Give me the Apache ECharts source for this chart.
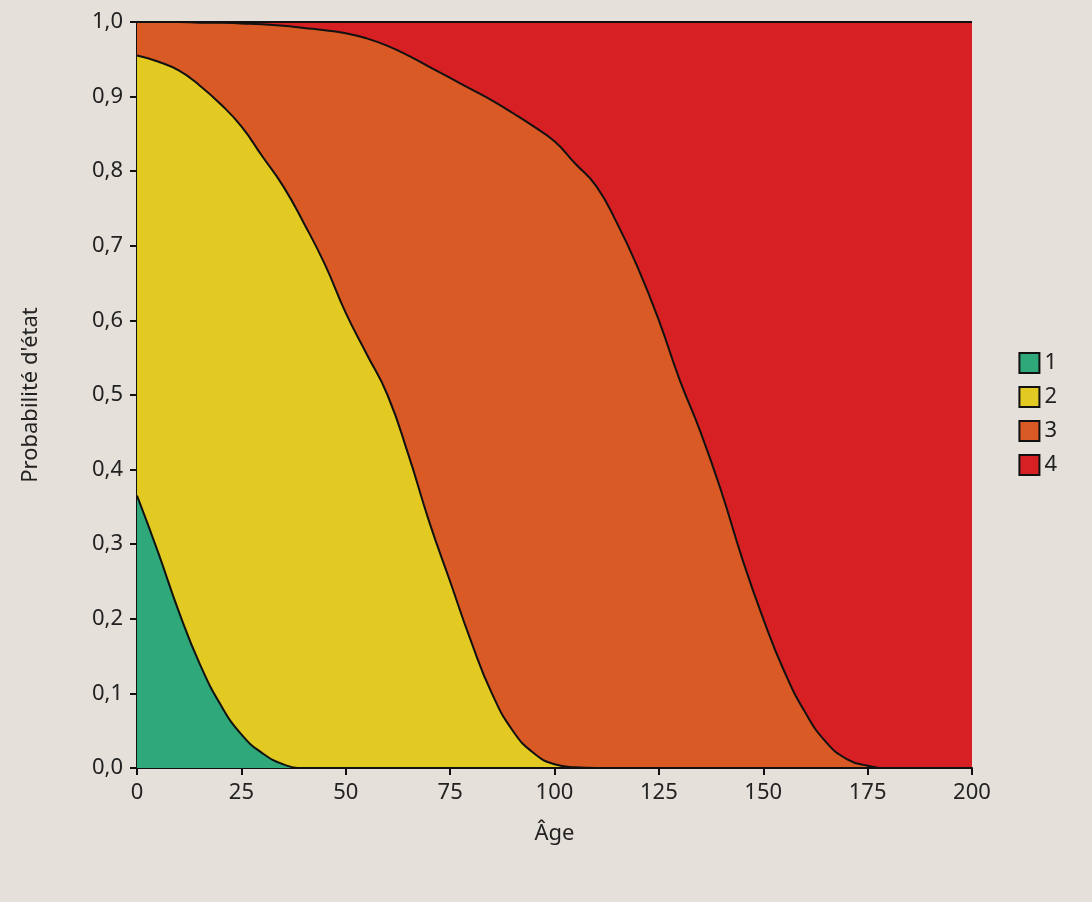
<!DOCTYPE html><html><head><meta charset="utf-8">
<script src="https://cdn.jsdelivr.net/npm/echarts@6/dist/echarts.min.js"></script>
<style>body{margin:0;background:#e5e1da}#c{width:1092px;height:902px}</style></head><body><div id="c"></div><script>
const ages=[0,5,10,15,20,25,30,35,40,45,50,55,60,65,70,75,80,85,90,95,100,105,110,115,120,125,130,135,140,145,150,155,160,165,170,175,180,185,190,195,200];
const cum1=[0.365,0.29,0.21,0.14,0.085,0.045,0.02,0.005,0,0,0,0,0,0,0,0,0,0,0,0,0,0,0,0,0,0,0,0,0,0,0,0,0,0,0,0,0,0,0,0,0];
const cum2=[0.955,0.947,0.935,0.915,0.89,0.86,0.82,0.78,0.73,0.675,0.61,0.555,0.5,0.42,0.33,0.25,0.17,0.1,0.05,0.02,0.005,0.001,0,0,0,0,0,0,0,0,0,0,0,0,0,0,0,0,0,0,0];
const cum3=[1,1,1,0.999,0.999,0.998,0.997,0.995,0.992,0.989,0.985,0.978,0.968,0.955,0.94,0.925,0.91,0.895,0.878,0.86,0.84,0.81,0.78,0.73,0.67,0.6,0.52,0.45,0.37,0.28,0.2,0.13,0.075,0.035,0.012,0.003,0,0,0,0,0];
const cum4=ages.map(()=>1);
const names=['1','2','3','4'];
const colors=['#2fa87a','#e3ca22','#d95a24','#d62024'];
const cums=[cum1,cum2,cum3,cum4];
const fmt=v=>v.toFixed(1).replace('.',',');
const series=[3,2,1,0].map(i=>({name:names[i],type:'line',smooth:true,symbol:'none',z:2+(3-i),
 data:ages.map((a,k)=>[a,cums[i][k]]),
 lineStyle:{color:'#111',width:2},itemStyle:{color:colors[i],borderColor:'#111',borderWidth:1.5},
 areaStyle:{color:colors[i],opacity:1,origin:'start'}}));
const ch=echarts.init(document.getElementById('c'));
ch.setOption({backgroundColor:'#e5e1da',animation:false,
 grid:{left:137,right:120,top:22,bottom:134},
 legend:{orient:'vertical',right:30,top:347,data:names,icon:'rect',itemWidth:20,itemHeight:20,itemGap:12,
  textStyle:{fontSize:22,color:'#222',fontFamily:'Noto Sans'}},
 xAxis:{type:'value',min:0,max:200,interval:25,name:'Âge',nameLocation:'middle',nameGap:55,
  nameTextStyle:{fontSize:22,color:'#222',fontFamily:'Noto Sans'},
  axisLine:{lineStyle:{color:'#111',width:2}},axisTick:{lineStyle:{color:'#111',width:2},length:7},
  axisLabel:{fontSize:22,color:'#222',fontFamily:'Noto Sans',margin:14},splitLine:{show:false}},
 yAxis:{type:'value',min:0,max:1,interval:0.1,name:"Probabilité d'état",nameLocation:'middle',nameGap:95,
  nameTextStyle:{fontSize:22,color:'#222',fontFamily:'Noto Sans'},
  axisLine:{show:true,lineStyle:{color:'#111',width:2}},axisTick:{show:true,lineStyle:{color:'#111',width:2},length:7},
  axisLabel:{fontSize:22,color:'#222',fontFamily:'Noto Sans',formatter:fmt,margin:14},splitLine:{show:false}},
 series:series});
</script></body></html>
